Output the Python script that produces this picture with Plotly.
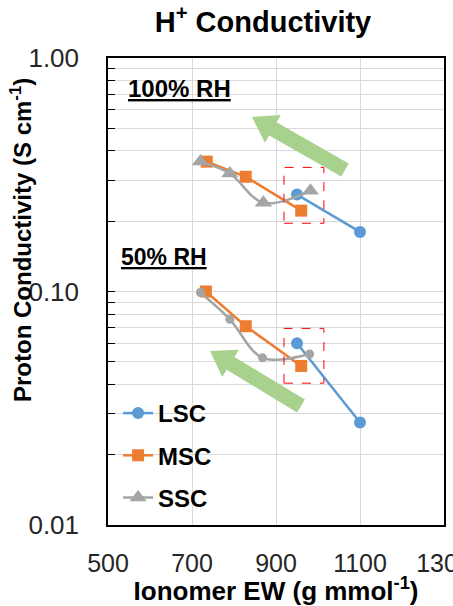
import math
import plotly.graph_objects as go

# ---- data ----
lsc100_x = [950, 1100]
lsc100_y = [0.26, 0.18]
msc100_x = [735, 828, 960]
msc100_y = [0.36, 0.31, 0.222]
ssc100_x = [720, 790, 870, 982]
ssc100_y = [0.36, 0.32, 0.24, 0.27]

lsc50_x = [950, 1100]
lsc50_y = [0.060, 0.0275]
msc50_x = [733, 828, 960]
msc50_y = [0.100, 0.071, 0.048]
ssc50_x = [720, 790, 868, 980]
ssc50_y = [0.099, 0.076, 0.052, 0.054]

x_ticks = [500, 700, 900, 1100, 1300]
y_ticks = [0.01, 0.1, 1.0]
y_ticktext = ["0.01", "0.10", "1.00"]

BLUE = "#5B9BD5"
ORANGE = "#ED7D31"
GRAY = "#A5A5A5"
GREEN = "#A9D18E"

W, H = 453, 606
L, R, T, B = 108, 9, 58, 81
PW, PH = W - L - R, H - T - B

fig = go.Figure()

def add(x, y, color, symbol, size, name, show, smooth=False, group=None):
    fig.add_trace(go.Scatter(
        x=x, y=y, name=name, showlegend=show, legendgroup=group or name,
        mode="lines+markers",
        line=dict(color=color, width=2.5, shape="spline" if smooth else "linear", smoothing=1.0),
        marker=dict(color=color, symbol=symbol, size=size),
    ))

add(lsc100_x, lsc100_y, BLUE, "circle", 12, "LSC", True)
add(msc100_x, msc100_y, ORANGE, "square", 12, "MSC", True)
add(ssc100_x, ssc100_y, GRAY, "triangle-up", 15, "SSC", True, smooth=True)
add(lsc50_x, lsc50_y, BLUE, "circle", 12, "LSC50", False, group="LSC")
add(msc50_x, msc50_y, ORANGE, "square", 12, "MSC50", False, group="MSC")
add(ssc50_x, ssc50_y, GRAY, "circle", 9, "SSC50", False, smooth=True, group="SSC")

def px2paper(px, py):
    return (px - L) / PW, (H - B - py) / PH

def arrow_path(tail, tip, w=7.5, hw=16, hl=24):
    tx, ty = tail
    hx, hy = tip
    dx, dy = hx - tx, hy - ty
    n = math.hypot(dx, dy)
    dx, dy = dx / n, dy / n
    nx, ny = -dy, dx
    bx, by = hx - dx * hl, hy - dy * hl
    pts = [
        (tx + nx * w, ty + ny * w), (bx + nx * w, by + ny * w), (bx + nx * hw, by + ny * hw),
        (hx, hy), (bx - nx * hw, by - ny * hw), (bx - nx * w, by - ny * w), (tx - nx * w, ty - ny * w),
    ]
    pp = [px2paper(*p) for p in pts]
    return "M " + " L ".join(f"{a:.4f},{b:.4f}" for a, b in pp) + " Z"

shapes = [
    dict(type="path", xref="paper", yref="paper", path=arrow_path((345, 170), (252, 117)),
         fillcolor=GREEN, line=dict(width=0), layer="above"),
    dict(type="path", xref="paper", yref="paper", path=arrow_path((301, 406), (210, 351)),
         fillcolor=GREEN, line=dict(width=0), layer="above"),
    dict(type="rect", xref="x", yref="y", x0=919, x1=1014, y0=0.196, y1=0.34,
         line=dict(color="red", width=1, dash="dash")),
    dict(type="rect", xref="x", yref="y", x0=919, x1=1014, y0=0.0405, y1=0.0695,
         line=dict(color="red", width=1, dash="dash")),
]

annotations = [
    dict(text="<b><u>100% RH</u></b>", xref="paper", yref="paper",
         x=px2paper(126, 0)[0], y=px2paper(0, 88)[1], xanchor="left", yanchor="middle",
         showarrow=False, font=dict(size=24, color="#000000")),
    dict(text="<b><u>50% RH</u></b>", xref="paper", yref="paper",
         x=px2paper(119, 0)[0], y=px2paper(0, 257)[1], xanchor="left", yanchor="middle",
         showarrow=False, font=dict(size=23, color="#000000")),
    dict(text="<b>Proton Conductivity (S cm<sup>-1</sup>)</b>", xref="paper", yref="paper",
         x=px2paper(21, 0)[0], y=px2paper(0, 240)[1], xanchor="center", yanchor="middle",
         textangle=-90, showarrow=False, font=dict(size=24, color="#000000")),
]

fig.update_layout(
    width=W, height=H,
    margin=dict(l=L, r=R, t=T, b=B, autoexpand=False),
    paper_bgcolor="white", plot_bgcolor="white",
    font=dict(family="Liberation Sans, Arial, sans-serif", color="#000000"),
    title=dict(text="<b>H<sup>+</sup> Conductivity</b>", x=px2paper(263, 0)[0], xref="paper", y=1 - 22 / H,
               yanchor="middle", xanchor="center", font=dict(size=29, color="#000000")),
    shapes=shapes,
    annotations=annotations,
    legend=dict(x=0.03, y=px2paper(0, 391)[1], xanchor="left", yanchor="top",
                font=dict(size=24, color="#000000", weight="bold"),
                bgcolor="rgba(0,0,0,0)", tracegroupgap=8, itemwidth=30),
)

fig.update_xaxes(
    range=[500, 1300], tickvals=x_ticks, ticks="", showgrid=True, gridcolor="#D9D9D9", gridwidth=1,
    showline=True, linecolor="#000000", linewidth=1.5, mirror=True, zeroline=False,
    tickfont=dict(size=25, color="#262626"), ticklabelstandoff=15, ticklabeloverflow="allow",
    automargin=False,
    title=dict(text="<b>Ionomer EW (g mmol<sup>-1</sup>)</b>", font=dict(size=26, color="#000000"), standoff=2),
)
fig.update_yaxes(
    type="log", range=[-2, 0], tickvals=y_ticks, ticktext=y_ticktext,
    ticks="inside", ticklen=7, tickcolor="#000000",
    showgrid=True, gridcolor="#D9D9D9", gridwidth=1,
    minor=dict(ticks="inside", ticklen=7, tickcolor="#000000", showgrid=True, gridcolor="#D9D9D9",
               tickvals=[a * 10 ** e for e in (-2, -1) for a in range(2, 10)]),
    showline=True, linecolor="#000000", linewidth=1.5, mirror=True, zeroline=False,
    tickfont=dict(size=26, color="#262626"), ticklabelstandoff=22, ticklabeloverflow="allow",
    automargin=False,
)

fig.write_html("out.html")
